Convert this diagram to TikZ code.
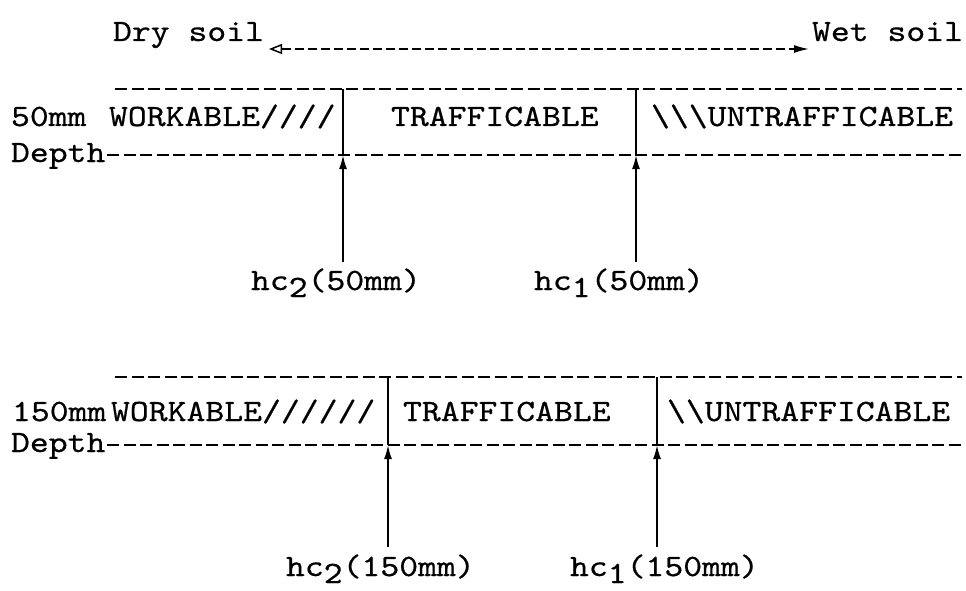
\documentclass[tikz,border=0pt]{standalone}
\usepackage{fontspec}
\usetikzlibrary{arrows.meta}
\newfontfamily\twfont[FakeStretch=1.16,FakeBold=0.6]{lmmono10-regular.otf}
\tikzset{
  txt/.style={anchor=base west,inner sep=0pt,outer sep=0pt,font=\twfont\fontsize{31}{36}\selectfont},
  dline/.style={line width=1.7pt,dash pattern=on 12pt off 4.5pt},
  vline/.style={line width=1.8pt},
  uparrow/.style={line width=1.8pt,-{Latex[length=14pt,width=8pt]}},
}
\newcommand{\lowsub}[1]{\raisebox{-7pt}{#1}}
\begin{document}
\begin{tikzpicture}[x=1pt,y=-1pt]
\useasboundingbox (0,0) rectangle (966,591);
% top direction arrow
\node[txt] (dry) at (113,41) {Dry soil};
\node[txt] (wet) at (812,41) {Wet soil};
\draw[line width=1.5pt,dash pattern=on 9pt off 4pt,{Triangle[open,length=13pt,width=10pt,line width=1.5pt]}-{Latex[length=15pt,width=8pt]}]
  ([xshift=5pt,yshift=-8pt]dry.base east) -- ([xshift=-3pt,yshift=-8pt]wet.base west);
% ----- block 1 (50mm)
\node[txt] (d50) at (11,126) {50mm};
\node[txt] (dep1) at (11,162) {Depth};
\node[txt] (wk1) at (109,126) {WORKABLE////};
\node[txt] (tr1) at (391,126) {TRAFFICABLE};
\node[txt] (un1) at (651,126) {\textbackslash\textbackslash\textbackslash UNTRAFFICABLE};
\coordinate (topL1) at (115,89);
\coordinate (topR1) at (962,89);
\coordinate (botL1) at (107,155);
\coordinate (botR1) at (962,155);
\draw[dline] (topL1) -- (topR1);
\draw[dline] (botL1) -- (botR1);
\coordinate (a1t) at (343,89); \coordinate (a1m) at (343,155); \coordinate (a1b) at (343,262);
\coordinate (b1t) at (636,89); \coordinate (b1m) at (636,155); \coordinate (b1b) at (636,262);
\draw[vline] (a1m) -- (a1t);
\draw[uparrow] (a1b) -- (a1m);
\draw[vline] (b1m) -- (b1t);
\draw[uparrow] (b1b) -- (b1m);
\node[txt] (hc2a) at (251,290) {hc\lowsub{2}(50mm)};
\node[txt] (hc1a) at (534,290) {hc\lowsub{1}(50mm)};
% ----- block 2 (150mm)
\node[txt] (d150) at (12,421) {150mm};
\node[txt] (dep2) at (11,452) {Depth};
\node[txt] (wk2) at (111,421) {WORKABLE//////};
\node[txt] (tr2) at (403,421) {TRAFFICABLE};
\node[txt] (un2) at (667,421) {\textbackslash\textbackslash UNTRAFFICABLE};
\coordinate (topL2) at (115,377);
\coordinate (topR2) at (962,377);
\coordinate (botL2) at (107,445);
\coordinate (botR2) at (962,445);
\draw[dline] (topL2) -- (topR2);
\draw[dline] (botL2) -- (botR2);
\coordinate (a2t) at (388,377); \coordinate (a2m) at (388,445); \coordinate (a2b) at (388,547);
\coordinate (b2t) at (657,377); \coordinate (b2m) at (657,445); \coordinate (b2b) at (657,547);
\draw[vline] (a2m) -- (a2t);
\draw[uparrow] (a2b) -- (a2m);
\draw[vline] (b2m) -- (b2t);
\draw[uparrow] (b2b) -- (b2m);
\node[txt] (hc2b) at (286,576) {hc\lowsub{2}(150mm)};
\node[txt] (hc1b) at (570,576) {hc\lowsub{1}(150mm)};
\end{tikzpicture}
\end{document}
